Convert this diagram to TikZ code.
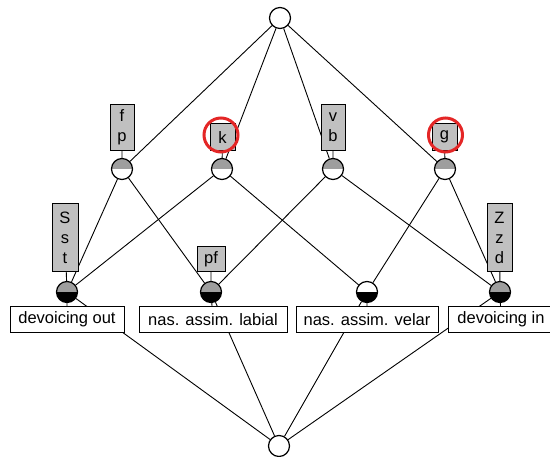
\documentclass[tikz,border=0pt]{standalone}
\usepackage{fontspec}
\setmainfont{Liberation Sans}
\definecolor{halfgray}{RGB}{158,158,158}
\definecolor{boxgray}{RGB}{192,192,192}
\definecolor{ringred}{RGB}{228,38,38}
\tikzset{
    concept/.style 2 args={circle, draw, line width=1.2pt, minimum size=21pt, inner sep=0pt,
        path picture={
            \fill[#1] (path picture bounding box.north west) rectangle (path picture bounding box.east);
            \fill[#2] (path picture bounding box.west) rectangle (path picture bounding box.south east);
        }},
    objlabel/.style={draw, fill=boxgray, line width=0.9pt, align=center, inner sep=0pt,
        anchor=south, font=\fontsize{16.5}{20}\selectfont},
    attrlabel/.style={draw, fill=white, line width=0.9pt, inner sep=0pt, minimum height=26pt,
        anchor=north, font=\fontsize{16.5}{20}\selectfont},
    latline/.style={line width=0.9pt},
    ring/.style={circle, draw=ringred, line width=3pt, minimum size=34pt, inner sep=0pt}
}
\begin{document}
\begin{tikzpicture}[x=1pt, y=-1pt]
        \useasboundingbox (0,0) rectangle (550,457);
        \node[concept={white}{white}] (top) at (280, 18) {};
        \node[concept={halfgray}{white}] (fp) at (122, 169) {};
        \node[concept={halfgray}{white}] (k) at (222, 169) {};
        \node[concept={halfgray}{white}] (vb) at (333, 169) {};
        \node[concept={halfgray}{white}] (g) at (445, 169) {};
        \node[concept={halfgray}{black}] (dout) at (67, 292) {};
        \node[concept={halfgray}{black}] (labial) at (211, 292) {};
        \node[concept={white}{black}] (velar) at (367, 292) {};
        \node[concept={halfgray}{black}] (din) at (500, 292) {};
        \node[concept={white}{white}] (bot) at (279, 446) {};

        \draw[latline] (top) -- (fp) (top) -- (k) (top) -- (vb) (top) -- (g);
        \draw[latline] (fp) -- (dout) (fp) -- (labial);
        \draw[latline] (k) -- (dout) (k) -- (velar);
        \draw[latline] (vb) -- (labial) (vb) -- (din);
        \draw[latline] (g) -- (velar) (g) -- (din);
        \draw[latline] (dout) -- (bot) (labial) -- (bot) (velar) -- (bot) (din) -- (bot);

        \node[objlabel, minimum width=24pt, minimum height=46pt] (lfp) at (122, 151) {f\\p};
        \node[objlabel, minimum width=25pt, minimum height=27pt] (lk) at (222.5, 151) {k};
        \node[objlabel, minimum width=24pt, minimum height=46pt] (lvb) at (333, 151) {v\\b};
        \node[objlabel, minimum width=25pt, minimum height=27pt] (lg) at (444.5, 151) {g};
        \node[objlabel, minimum width=26pt, minimum height=68pt] (lsst) at (65, 272) {S\\s\\t};
        \node[objlabel, minimum width=28pt, minimum height=25pt] (lpf) at (211, 272) {pf};
        \node[objlabel, minimum width=25pt, minimum height=68pt] (lzzd) at (499.5, 272) {Z\\z\\d};

        \node[attrlabel, minimum width=114pt] (adout) at (67, 306) {devoicing out};
        \node[attrlabel, minimum width=148pt] (alabial) at (213, 306) {nas. assim. labial};
        \node[attrlabel, minimum width=142pt] (avelar) at (367, 306) {nas. assim. velar};
        \node[attrlabel, minimum width=106pt] (adin) at (501, 306) {devoicing in};

        \draw[latline] (lfp) -- (fp) (lk) -- (k) (lvb) -- (vb) (lg) -- (g);
        \draw[latline] (lsst) -- (dout) (lpf) -- (labial) (lzzd) -- (din);
        \draw[latline] (dout) -- (adout) (labial) -- (alabial) (velar) -- (avelar) (din) -- (adin);

        \node[ring] (rk) at (221, 135) {};
        \node[ring] (rg) at (445.5, 135) {};
    \end{tikzpicture}
\end{document}
